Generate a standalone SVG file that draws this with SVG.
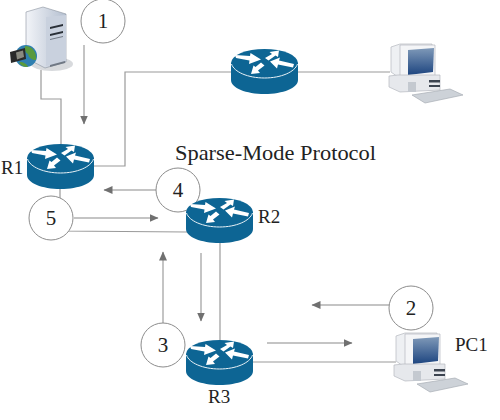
<svg xmlns="http://www.w3.org/2000/svg" xmlns:xlink="http://www.w3.org/1999/xlink" width="500" height="420" viewBox="0 0 500 420">
<style>
.line{fill:none;stroke:#9a9a9a;stroke-width:1.2}
.arr{fill:none;stroke:#b0b0b0;stroke-width:1.5;marker-end:url(#head)}
.circ{fill:#fff;stroke:#8c8c8c;stroke-width:1}
text{font-family:"Liberation Serif","Times New Roman",serif;fill:#222}
.lab{font-size:19px}
.num{font-size:21px;text-anchor:middle}
.rarrow{fill:#fff}
</style>
<defs>
<marker id="head" markerUnits="userSpaceOnUse" markerWidth="10" markerHeight="10" refX="8.5" refY="4" orient="auto">
<path d="M0,0L9,4L0,8Z" fill="#707070"/>
</marker>
<linearGradient id="scr" x1="0" y1="0" x2="0" y2="1"><stop offset="0" stop-color="#7f99b8"/><stop offset="1" stop-color="#1d4580"/></linearGradient>
<linearGradient id="srv" x1="0" y1="0" x2="1" y2="0"><stop offset="0" stop-color="#f2f4f8"/><stop offset="1" stop-color="#b4bfd0"/></linearGradient>
<g id="router">
<path d="M0,14V31C0,39 15,45 33.500,45S67,39 67,31V14Z" fill="#0d6594"/>
<ellipse cx="33.500" cy="14" rx="33.500" ry="14" fill="#0d6594"/>
<path d="M0.500,15C3,23 17,29 33.500,29S64,23 66.500,15" fill="none" stroke="#e8f1f6" stroke-width="1"/>
<path class="rarrow" d="M4,6L19,7L19.500,4L30,10.500L18,15L18.500,11.500L5,9Z"/>
<path class="rarrow" d="M34,9L41,5L38.500,3L48,1.500L47,8L44.500,6.500L37.500,11.500Z"/>
<path class="rarrow" d="M63,15L48,11.500L49,8.500L39,12.500L46,19.500L47,15.500L62,18.500Z"/>
<path class="rarrow" d="M30,13.500L24.500,18L22.500,16.500L20,25L29,24L27,21.500L33.500,16.500Z"/>
</g>
<g id="pc">
<path d="M21,17L30,14H62L63,45L28,47L21,42Z" fill="#eef0f3" stroke="#b4b8be" stroke-width=".7"/>
<path d="M30,15H65V46H30Z" fill="#f4f5f7" stroke="#b4b8be" stroke-width=".7"/>
<path d="M38,20L64,18L63,42L38,45Z" fill="url(#scr)"/>
<path d="M19,46L28,45H70V60L30,62L19,57Z" fill="#e6e8ec" stroke="#b4b8be" stroke-width=".7"/>
<path d="M38,52H46V62H38Z" fill="#c4c9d0"/>
<path d="M59,50H70V52.500H59ZM59,55H70V57H59Z" fill="#3c4450"/>
<path d="M42,65L80,59L93,65L55,73Z" fill="#cdd2d8" stroke="#a8adb4" stroke-width=".7"/>
</g>
</defs>
<rect width="500" height="420" fill="#fff"/>
<g id="connectors">
<path class="line" d="M41,70V99H61V144"/>
<path class="line" d="M94,166H125V72H232"/>
<path class="line" d="M297,72H390"/>
<path class="line" d="M60,188V231L187,232"/>
<path class="line" d="M220,243V340"/>
<path class="line" d="M253,362H396"/>
<path class="arr" d="M84,45V124"/>
<path class="arr" d="M156,190H104"/>
<path class="arr" d="M74,218H158"/>
<path class="arr" d="M163,323V252"/>
<path class="arr" d="M201,253V321"/>
<path class="arr" d="M267,343H352"/>
<path class="arr" d="M390,305H312"/>
</g>
<g id="server">
<ellipse cx="52" cy="64" rx="21" ry="7" fill="#d8dadd"/>
<path d="M26,12L43,7L66,14V62L45,68L26,58Z" fill="url(#srv)" stroke="#8a929e" stroke-width=".6"/>
<path d="M46,17L66,15V61L46,66Z" fill="#c9d1de"/>
<path d="M50,27L63,24V26L50,29ZM50,34L63,31V33L50,36Z" fill="#2a3038"/>
<path d="M50,39L63,36V37L50,40ZM50,65L65,61V63L50,67Z" fill="#707884"/>
<circle cx="26" cy="56" r="11" fill="#2f7fb0"/>
<path d="M25,46C32,46 37,52 36,60C32,60 29,58 28,54C26,53 24,50 25,46ZM19,62C24,62 27,64 28,67C24,67 21,66 19,62Z" fill="#5a9a3c"/>
<path d="M10,52L25,48L26,59L11,63Z" fill="#2a2a2a"/>
<path d="M16,52.500L23,50.500L24,57L17,59.500Z" fill="#8a8a80"/>
</g>
<g id="router-top"><use href="#router" x="231" y="49"/></g>
<g id="pc-top"><use href="#pc" x="370" y="30"/></g>
<g id="pc1"><use href="#pc" x="375" y="319"/><text class="lab" x="455" y="351">PC1</text></g>
<g id="r1"><use href="#router" x="27" y="144"/><text class="lab" x="1" y="174">R1</text></g>
<g id="n5"><circle class="circ" cx="51" cy="218" r="22"/><text class="num" x="51" y="225">5</text></g>
<g id="n4"><circle class="circ" cx="178" cy="190" r="22"/><text class="num" x="178" y="197">4</text></g>
<g id="r2"><use href="#router" x="186" y="198"/><text class="lab" x="258" y="223">R2</text></g>
<g id="n3"><circle class="circ" cx="163" cy="345" r="22"/><text class="num" x="163" y="352">3</text></g>
<g id="r3"><use href="#router" x="186" y="340"/><text class="lab" x="208" y="403">R3</text></g>
<g id="n1"><circle class="circ" cx="103" cy="21" r="22"/><text class="num" x="103" y="28">1</text></g>
<g id="n2"><circle class="circ" cx="411" cy="308" r="22"/><text class="num" x="411" y="315">2</text></g>
<text id="title" x="175" y="160" font-size="21" textLength="201" lengthAdjust="spacingAndGlyphs">Sparse-Mode Protocol</text>
</svg>
